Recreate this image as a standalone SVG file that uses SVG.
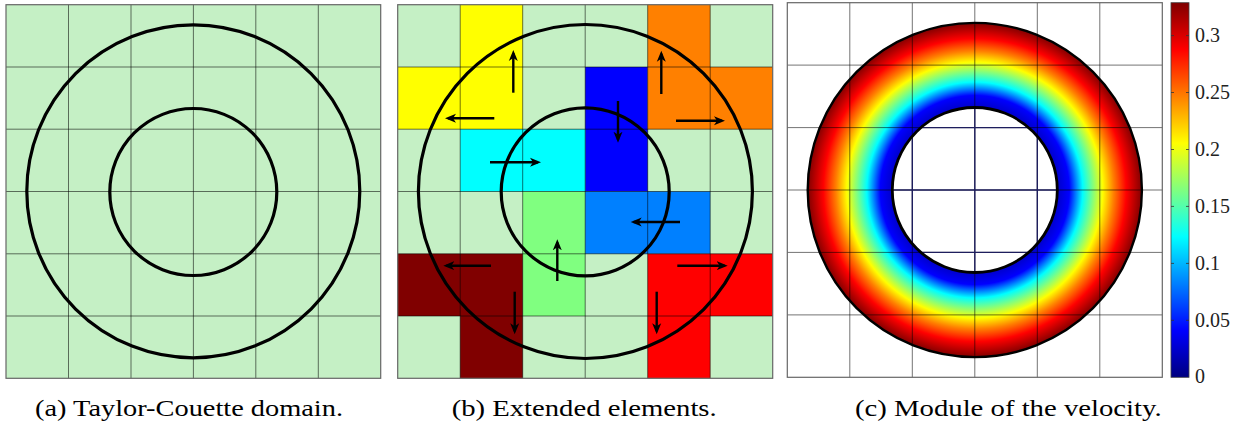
<svg xmlns="http://www.w3.org/2000/svg" width="1249" height="423" viewBox="0 0 1249 423">
<style>
.bg{fill:#c5f0c5}
.grid{stroke:#000;stroke-opacity:0.55;stroke-width:1;fill:none}
.frame{stroke:#666;stroke-width:1.2;fill:none}
.circ{stroke:#000;stroke-width:3.2;fill:none}
.arr{stroke:#000;stroke-width:2.4;fill:none;marker-end:url(#ah)}
</style>
<defs>
<marker id="ah" markerUnits="userSpaceOnUse" markerWidth="14" markerHeight="12" refX="8" refY="5" orient="auto" viewBox="0 0 14 10">
<path d="M0,0.5 L11,5 L0,9.5 L3,5 Z" fill="#000"/>
</marker>
<radialGradient id="ring" gradientUnits="userSpaceOnUse" cx="974.8" cy="190" r="167.3">
<stop offset="0" stop-color="#0000c8"/>
<stop offset="0.49" stop-color="#0000c8"/>
<stop offset="0.565" stop-color="#0000ff"/>
<stop offset="0.605" stop-color="#0080ff"/>
<stop offset="0.645" stop-color="#00ffff"/>
<stop offset="0.705" stop-color="#80ff80"/>
<stop offset="0.765" stop-color="#ffff00"/>
<stop offset="0.83" stop-color="#ff8000"/>
<stop offset="0.905" stop-color="#ff0000"/>
<stop offset="1" stop-color="#800000"/>
</radialGradient>
<linearGradient id="jet" x1="0" y1="0" x2="0" y2="1">
<stop offset="0" stop-color="#800000"/>
<stop offset="0.125" stop-color="#ff0000"/>
<stop offset="0.375" stop-color="#ffff00"/>
<stop offset="0.625" stop-color="#00ffff"/>
<stop offset="0.875" stop-color="#0000ff"/>
<stop offset="1" stop-color="#000080"/>
</linearGradient>
<clipPath id="hole"><circle cx="974.8" cy="190" r="82.5"/></clipPath>
</defs>

<g id="panel-a">
<rect class="bg" x="6" y="4.7" width="374.7" height="373.6"/>
<path class="grid" d="M68.5,4.7V378.3M131,4.7V378.3M193.4,4.7V378.3M255.8,4.7V378.3M318.3,4.7V378.3M6,67H380.7M6,129.2H380.7M6,191.5H380.7M6,253.8H380.7M6,316H380.7"/>
<rect class="frame" x="6" y="4.7" width="374.7" height="373.6"/>
<circle class="circ" cx="193.3" cy="191.3" r="166.5"/>
<circle class="circ" cx="193.3" cy="192" r="83.5"/>
</g>

<g id="panel-b">
<rect class="bg" x="397.7" y="4.7" width="375" height="373.6"/>
<g id="cells">
<rect x="460.2" y="4.7" width="62.5" height="62.3" fill="#ffff00"/>
<rect x="647.7" y="4.7" width="62.5" height="62.3" fill="#ff8000"/>
<rect x="397.7" y="67" width="125" height="62.2" fill="#ffff00"/>
<rect x="585.2" y="67" width="62.5" height="124.5" fill="#0000ff"/>
<rect x="647.7" y="67" width="125" height="62.2" fill="#ff8000"/>
<rect x="460.2" y="129.2" width="125" height="62.3" fill="#00ffff"/>
<rect x="522.7" y="191.5" width="62.5" height="124.5" fill="#80ff80"/>
<rect x="585.2" y="191.5" width="125" height="62.3" fill="#0080ff"/>
<rect x="397.7" y="253.8" width="125" height="62.2" fill="#800000"/>
<rect x="460.2" y="316" width="62.5" height="62.3" fill="#800000"/>
<rect x="647.7" y="253.8" width="125" height="62.2" fill="#ff0000"/>
<rect x="647.7" y="316" width="62.5" height="62.3" fill="#ff0000"/>
</g>
<path class="grid" d="M460.2,4.7V378.3M522.7,4.7V378.3M585.2,4.7V378.3M647.7,4.7V378.3M710.2,4.7V378.3M397.7,67H772.7M397.7,129.2H772.7M397.7,191.5H772.7M397.7,253.8H772.7M397.7,316H772.7"/>
<rect class="frame" x="397.7" y="4.7" width="375" height="373.6"/>
<circle class="circ" cx="585.4" cy="191.5" r="167"/>
<circle class="circ" cx="585.2" cy="191.8" r="84"/>
<g id="connectors">
<line class="arr" x1="513.3" y1="92.7" x2="513.3" y2="53"/>
<line class="arr" x1="494.3" y1="118.3" x2="448" y2="118.3"/>
<line class="arr" x1="661.3" y1="94" x2="661.3" y2="53.7"/>
<line class="arr" x1="676" y1="120.7" x2="722" y2="120.7"/>
<line class="arr" x1="618" y1="101" x2="618" y2="139.7"/>
<line class="arr" x1="490" y1="162.3" x2="538" y2="162.3"/>
<line class="arr" x1="680" y1="222" x2="633.7" y2="222"/>
<line class="arr" x1="557.3" y1="281" x2="557.3" y2="242.3"/>
<line class="arr" x1="491" y1="265.7" x2="446.3" y2="265.7"/>
<line class="arr" x1="514.7" y1="291.7" x2="514.7" y2="331.3"/>
<line class="arr" x1="677.3" y1="265.7" x2="724.7" y2="265.7"/>
<line class="arr" x1="656.7" y1="291.7" x2="656.7" y2="331.3"/>
</g>
</g>

<g id="panel-c">
<rect x="787.3" y="2.7" width="375" height="374.6" fill="#fff"/>
<circle cx="974.8" cy="190" r="167.3" fill="url(#ring)"/>
<circle cx="974.8" cy="190" r="82.5" fill="#fff"/>
<path class="grid" d="M849.8,2.7V377.3M912.3,2.7V377.3M974.8,2.7V377.3M1037.3,2.7V377.3M1099.8,2.7V377.3M787.3,65.1H1162.3M787.3,127.6H1162.3M787.3,190H1162.3M787.3,252.4H1162.3M787.3,314.9H1162.3"/>
<path clip-path="url(#hole)" d="M912.3,100V280M974.8,100V280M1037.3,100V280M880,127.6H1070M880,190H1070M880,252.4H1070" stroke="#1e1e5e" stroke-width="1.4" fill="none"/>
<rect class="frame" x="787.3" y="2.7" width="375" height="374.6"/>
<circle cx="974.8" cy="190" r="167.1" fill="none" stroke="#000" stroke-width="2.4"/>
<circle cx="974.8" cy="190" r="82.5" fill="none" stroke="#000" stroke-width="2.8"/>
</g>

<g id="colorbar" font-family="'Liberation Serif', 'Times New Roman', serif" font-size="20" fill="#222">
<rect x="1171" y="2.7" width="18" height="374.6" fill="url(#jet)" stroke="#444" stroke-width="0.8"/>
<path d="M1171,35.6h3M1189,35.6h-3M1171,92.5h3M1189,92.5h-3M1171,149.5h3M1189,149.5h-3M1171,206.4h3M1189,206.4h-3M1171,263.4h3M1189,263.4h-3M1171,320.3h3M1189,320.3h-3" stroke="#333" stroke-width="0.8"/>
<text x="1195" y="42">0.3</text>
<text x="1195" y="99">0.25</text>
<text x="1195" y="156">0.2</text>
<text x="1195" y="213">0.15</text>
<text x="1195" y="270">0.1</text>
<text x="1195" y="327">0.05</text>
<text x="1195" y="383">0</text>
</g>

<g id="captions" font-family="'Liberation Serif', 'Times New Roman', serif" font-size="24" fill="#000">
<text x="35" y="416" textLength="308" lengthAdjust="spacingAndGlyphs">(a) Taylor-Couette domain.</text>
<text x="451.7" y="416" textLength="265" lengthAdjust="spacingAndGlyphs">(b) Extended elements.</text>
<text x="855" y="416" textLength="306.7" lengthAdjust="spacingAndGlyphs">(c) Module of the velocity.</text>
</g>
</svg>
